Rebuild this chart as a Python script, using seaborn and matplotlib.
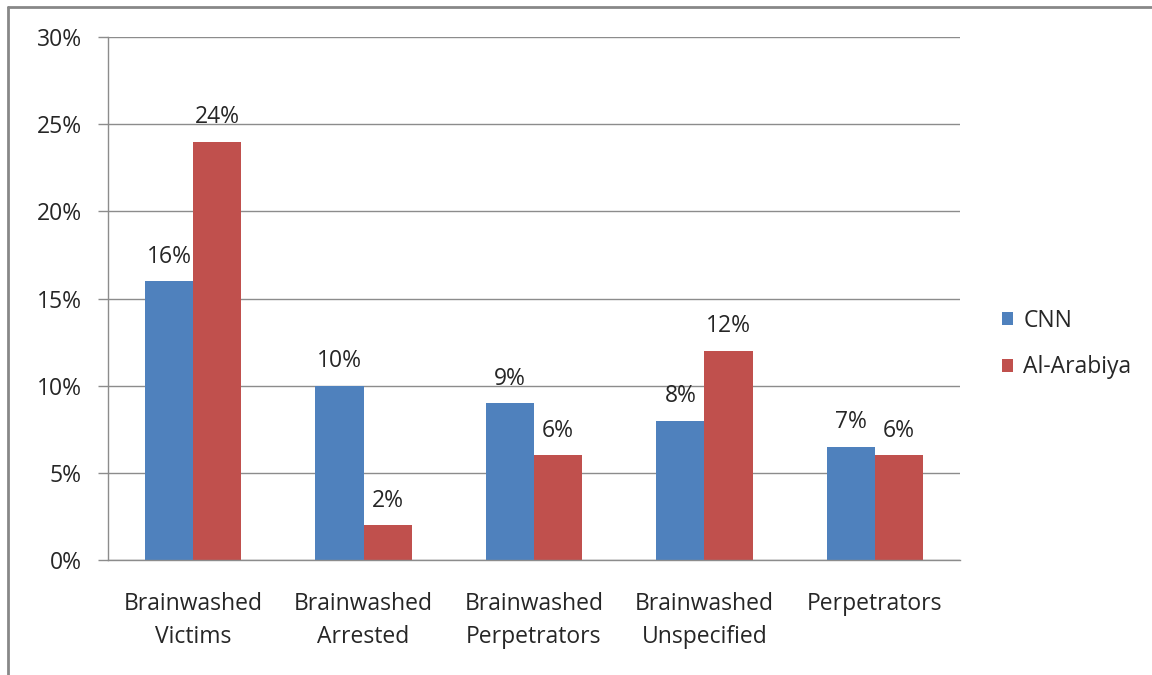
import matplotlib
matplotlib.use("Agg")
import matplotlib.pyplot as plt
from matplotlib.lines import Line2D
import seaborn as sns
import pandas as pd

categories = ["Brainwashed\nVictims", "Brainwashed\nArrested", "Brainwashed\nPerpetrators",
              "Brainwashed\nUnspecified", "Perpetrators"]
cnn = [16, 10, 9, 8, 6.5]
al_arabiya = [24, 2, 6, 12, 6]
series = ["CNN", "Al-Arabiya"]
yticks = [0, 5, 10, 15, 20, 25, 30]

colors = {"CNN": "#4F81BD", "Al-Arabiya": "#C0504D"}
FS = 16.5
TXT = "#262626"

df = pd.DataFrame({
    "category": categories * 2,
    "series": [series[0]] * len(categories) + [series[1]] * len(categories),
    "value": cnn + al_arabiya,
})

sns.set_theme(style="white")
plt.rcParams["font.family"] = ["Open Sans", "DejaVu Sans"]

fig = plt.figure(figsize=(11.52, 6.75), dpi=100)
ax = fig.add_axes([108 / 1152, 1 - 560 / 675, (960 - 108) / 1152, (560 - 37) / 675])

sns.barplot(data=df, x="category", y="value", hue="series", palette=colors,
            width=0.565, ax=ax, saturation=1, legend=True, linewidth=0)

ax.set_ylim(0, 30)
ax.set_xlim(-0.5, len(categories) - 0.5)
ax.set_yticks(yticks)
ax.set_yticklabels([f"{t}%" for t in yticks], fontsize=FS, color=TXT)
ax.yaxis.grid(True, color="#8C8C8C", linewidth=1)
ax.set_axisbelow(True)
ax.set_xlabel("")
ax.set_ylabel("")

# category labels sit between boundary tick marks
ax.set_xticks(range(len(categories)))
ax.set_xticklabels(categories, fontsize=FS, color=TXT, linespacing=1.5)
ax.tick_params(axis="x", length=0, pad=23)
ax.set_xticks([i - 0.5 for i in range(len(categories) + 1)], minor=True)
ax.tick_params(axis="x", which="minor", length=7, width=1, color="#8C8C8C", direction="out")
ax.tick_params(axis="y", length=7, width=1, color="#8C8C8C", direction="out", pad=12, left=True)

for side in ["top", "right"]:
    ax.spines[side].set_visible(False)
for side in ["left", "bottom"]:
    ax.spines[side].set_color("#8C8C8C")
    ax.spines[side].set_linewidth(1)

for cont in ax.containers:
    for bar in cont:
        v = bar.get_height()
        ax.annotate(f"{round(v + 0.001):.0f}%", (bar.get_x() + bar.get_width() / 2, v),
                    xytext=(0, 9), textcoords="offset points", ha="center", va="bottom",
                    fontsize=FS, color=TXT)

handles, labels = ax.get_legend_handles_labels()
ax.legend(handles, labels, loc="center left", bbox_to_anchor=(981 / 1152, 1 - 344 / 675),
          bbox_transform=fig.transFigure, frameon=False, fontsize=FS,
          handlelength=0.5, handleheight=0.5, handletextpad=0.45, labelspacing=1.0)

# outer chart border (top and left edges)
fig.add_artist(Line2D([8 / 1152, 1], [1 - 7 / 675, 1 - 7 / 675], color="#888888", linewidth=2,
                      transform=fig.transFigure))
fig.add_artist(Line2D([8 / 1152, 8 / 1152], [0, 1 - 7 / 675], color="#888888", linewidth=2,
                      transform=fig.transFigure))

fig.savefig("out.png", dpi=100, facecolor="white")
